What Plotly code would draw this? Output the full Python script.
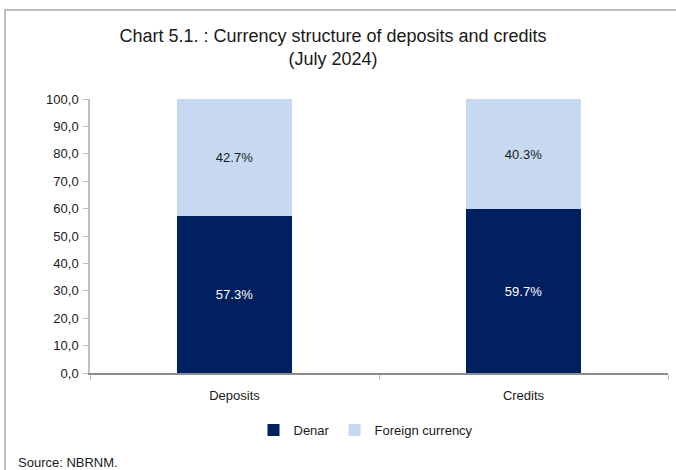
import plotly.graph_objects as go

categories = ["Deposits", "Credits"]
denar = [57.3, 59.7]
foreign = [42.7, 40.3]

FONT = "Liberation Sans"

fig = go.Figure()
fig.add_trace(go.Bar(x=categories, y=denar, name="Denar",
                     marker=dict(color="#002060", line=dict(width=0)),
                     text=[f"{v:.1f}%" for v in denar], textposition="inside",
                     insidetextanchor="middle",
                     textfont=dict(color="white", size=13, family=FONT)))
fig.add_trace(go.Bar(x=categories, y=foreign, name="Foreign currency",
                     marker=dict(color="#C6D9F1", line=dict(width=0)),
                     text=[f"{v:.1f}%" for v in foreign], textposition="inside",
                     insidetextanchor="middle",
                     textfont=dict(color="#1a1a1a", size=13, family=FONT)))

# plot area: x 90..668, y 99..373 (pixels)
L, R, T, B = 90, 668, 99, 373
W, H = R - L, B - T
px = lambda x: (x - L) / W
py = lambda y: (B - y) / H

fig.update_layout(
    width=676, height=470,
    margin=dict(l=L, r=676 - R, t=T, b=470 - B),
    barmode="stack", bargap=0.6,
    separators=",.",
    plot_bgcolor="white", paper_bgcolor="white",
    font=dict(family=FONT, size=13, color="#1a1a1a"),
    title=dict(text="Chart 5.1. : Currency structure of deposits and credits<br>(July 2024)",
               x=333 / 676, xref="container", xanchor="center",
               y=1 - 42 / 470, yanchor="middle",
               font=dict(size=18, family=FONT, color="#1a1a1a")),
    showlegend=True,
    legend=dict(orientation="h", x=px(366), xanchor="center", y=py(430), yanchor="middle",
                font=dict(size=13, family=FONT), traceorder="normal",
                itemwidth=30),
    xaxis=dict(showline=True, linecolor="#8c8c8c", linewidth=1.5,
               ticks="outside", tickson="boundaries", ticklen=5, tickcolor="#bfbfbf",
               ticklabelstandoff=10,
               tickfont=dict(size=13), showgrid=False),
    yaxis=dict(range=[0, 100], dtick=10, tickformat=".1f",
               showline=True, linecolor="#bfbfbf", linewidth=1.5,
               ticks="outside", ticklen=5, tickcolor="#bfbfbf",
               ticklabelstandoff=2,
               showgrid=False, zeroline=False, tickfont=dict(size=13)),
    shapes=[dict(type="rect", xref="paper", yref="paper",
                 x0=px(5), x1=px(690), y0=py(490), y1=py(10),
                 line=dict(color="#bfbfbf", width=2), layer="below")],
    annotations=[dict(text="Source: NBRNM.", xref="paper", yref="paper",
                      x=px(16), y=py(462), xanchor="left", yanchor="middle",
                      showarrow=False, font=dict(size=13, family=FONT))],
)

fig.write_html("out.html", config={"displayModeBar": False},
               post_script="document.body.style.margin='0';")
